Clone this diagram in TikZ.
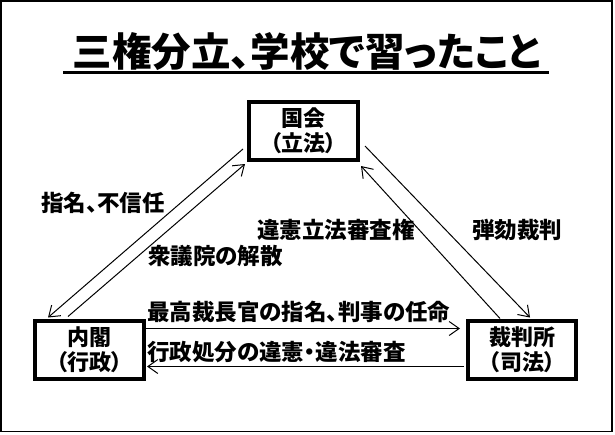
\documentclass[tikz,border=0pt]{standalone}
\usepackage{fontspec}
\newfontfamily\jp[RawFeature=+palt]{Noto Sans CJK JP}
\usetikzlibrary{arrows.meta,calc}
\begin{document}
\begin{tikzpicture}[x=1pt,y=-1pt,
  branch/.style={draw=black,line width=4pt,minimum width=109pt,minimum height=58pt,inner sep=0pt,
    align=center,font=\jp\bfseries\fontsize{22}{25}\selectfont},
  lbl/.style={anchor=west,inner sep=0pt,font=\jp\bfseries\fontsize{22.5}{25}\selectfont},
  conn/.style={line width=1pt,-{Straight Barb[length=10pt,width=14pt,line width=1pt]}}]
\useasboundingbox (0,0) rectangle (615,434);
\draw[line width=1.5pt] (0.75,0.75) rectangle (612,431.5);
% title
\node[inner sep=0pt,font=\jp\bfseries\fontsize{39.5}{40}\selectfont] (title) at (307,52) {三権分立、学校で習ったこと};
\draw[line width=3pt] (63,72) coordinate (ul1) -- (549,72) coordinate (ul2);
% boxes
\node[branch] (kokkai) at (303.5,131) {国会\\（立法）};
\node[branch,minimum width=109pt] (naikaku) at (89.5,349.5) {内閣\\（行政）};
\node[branch,minimum width=108pt] (saiban) at (522,349.5) {裁判所\\（司法）};
% connector end points
\coordinate (l1s) at ($(kokkai.south west)+(-4,-13)$);
\coordinate (l1e) at ($(naikaku.north west)+(15,-1)$);
\coordinate (l2s) at ($(naikaku.north west)+(35,-2)$);
\coordinate (l2e) at ($(kokkai.south west)+(-2,2)$);
\coordinate (r1s) at ($(kokkai.north east)+(5,46)$);
\coordinate (r1e) at ($(saiban.north west)+(64,-1)$);
\coordinate (r2s) at ($(saiban.north west)+(34,0)$);
\coordinate (r2e) at ($(kokkai.south east)+(1,4)$);
\coordinate (h1s) at ($(naikaku.north east)+(0,10)$);
\coordinate (h1e) at ($(saiban.north west)+(-6,10)$);
\coordinate (h2s) at ($(saiban.south west)+(-2,-14)$);
\coordinate (h2e) at ($(naikaku.south east)+(1,-14)$);
\draw[conn] (l1s) -- (l1e);
\draw[conn] (l2s) -- (l2e);
\draw[conn] (r1s) -- (r1e);
\draw[conn] (r2s) -- (r2e);
\draw[conn] (h1s) -- (h1e);
\draw[conn] (h2s) -- (h2e);
% labels
\node[lbl] (t1) at (41,203) {指名、不信任};
\node[lbl] (t2) at (148,256) {衆議院の解散};
\node[lbl] (t3) at (257,230) {違憲立法審査権};
\node[lbl] (t4) at (472,230) {弾劾裁判};
\node[lbl] (t5) at (147,312) {最高裁長官の指名、判事の任命};
\node[lbl] (t6) at (147,352) {行政処分の違憲・違法審査};
\end{tikzpicture}
\end{document}
